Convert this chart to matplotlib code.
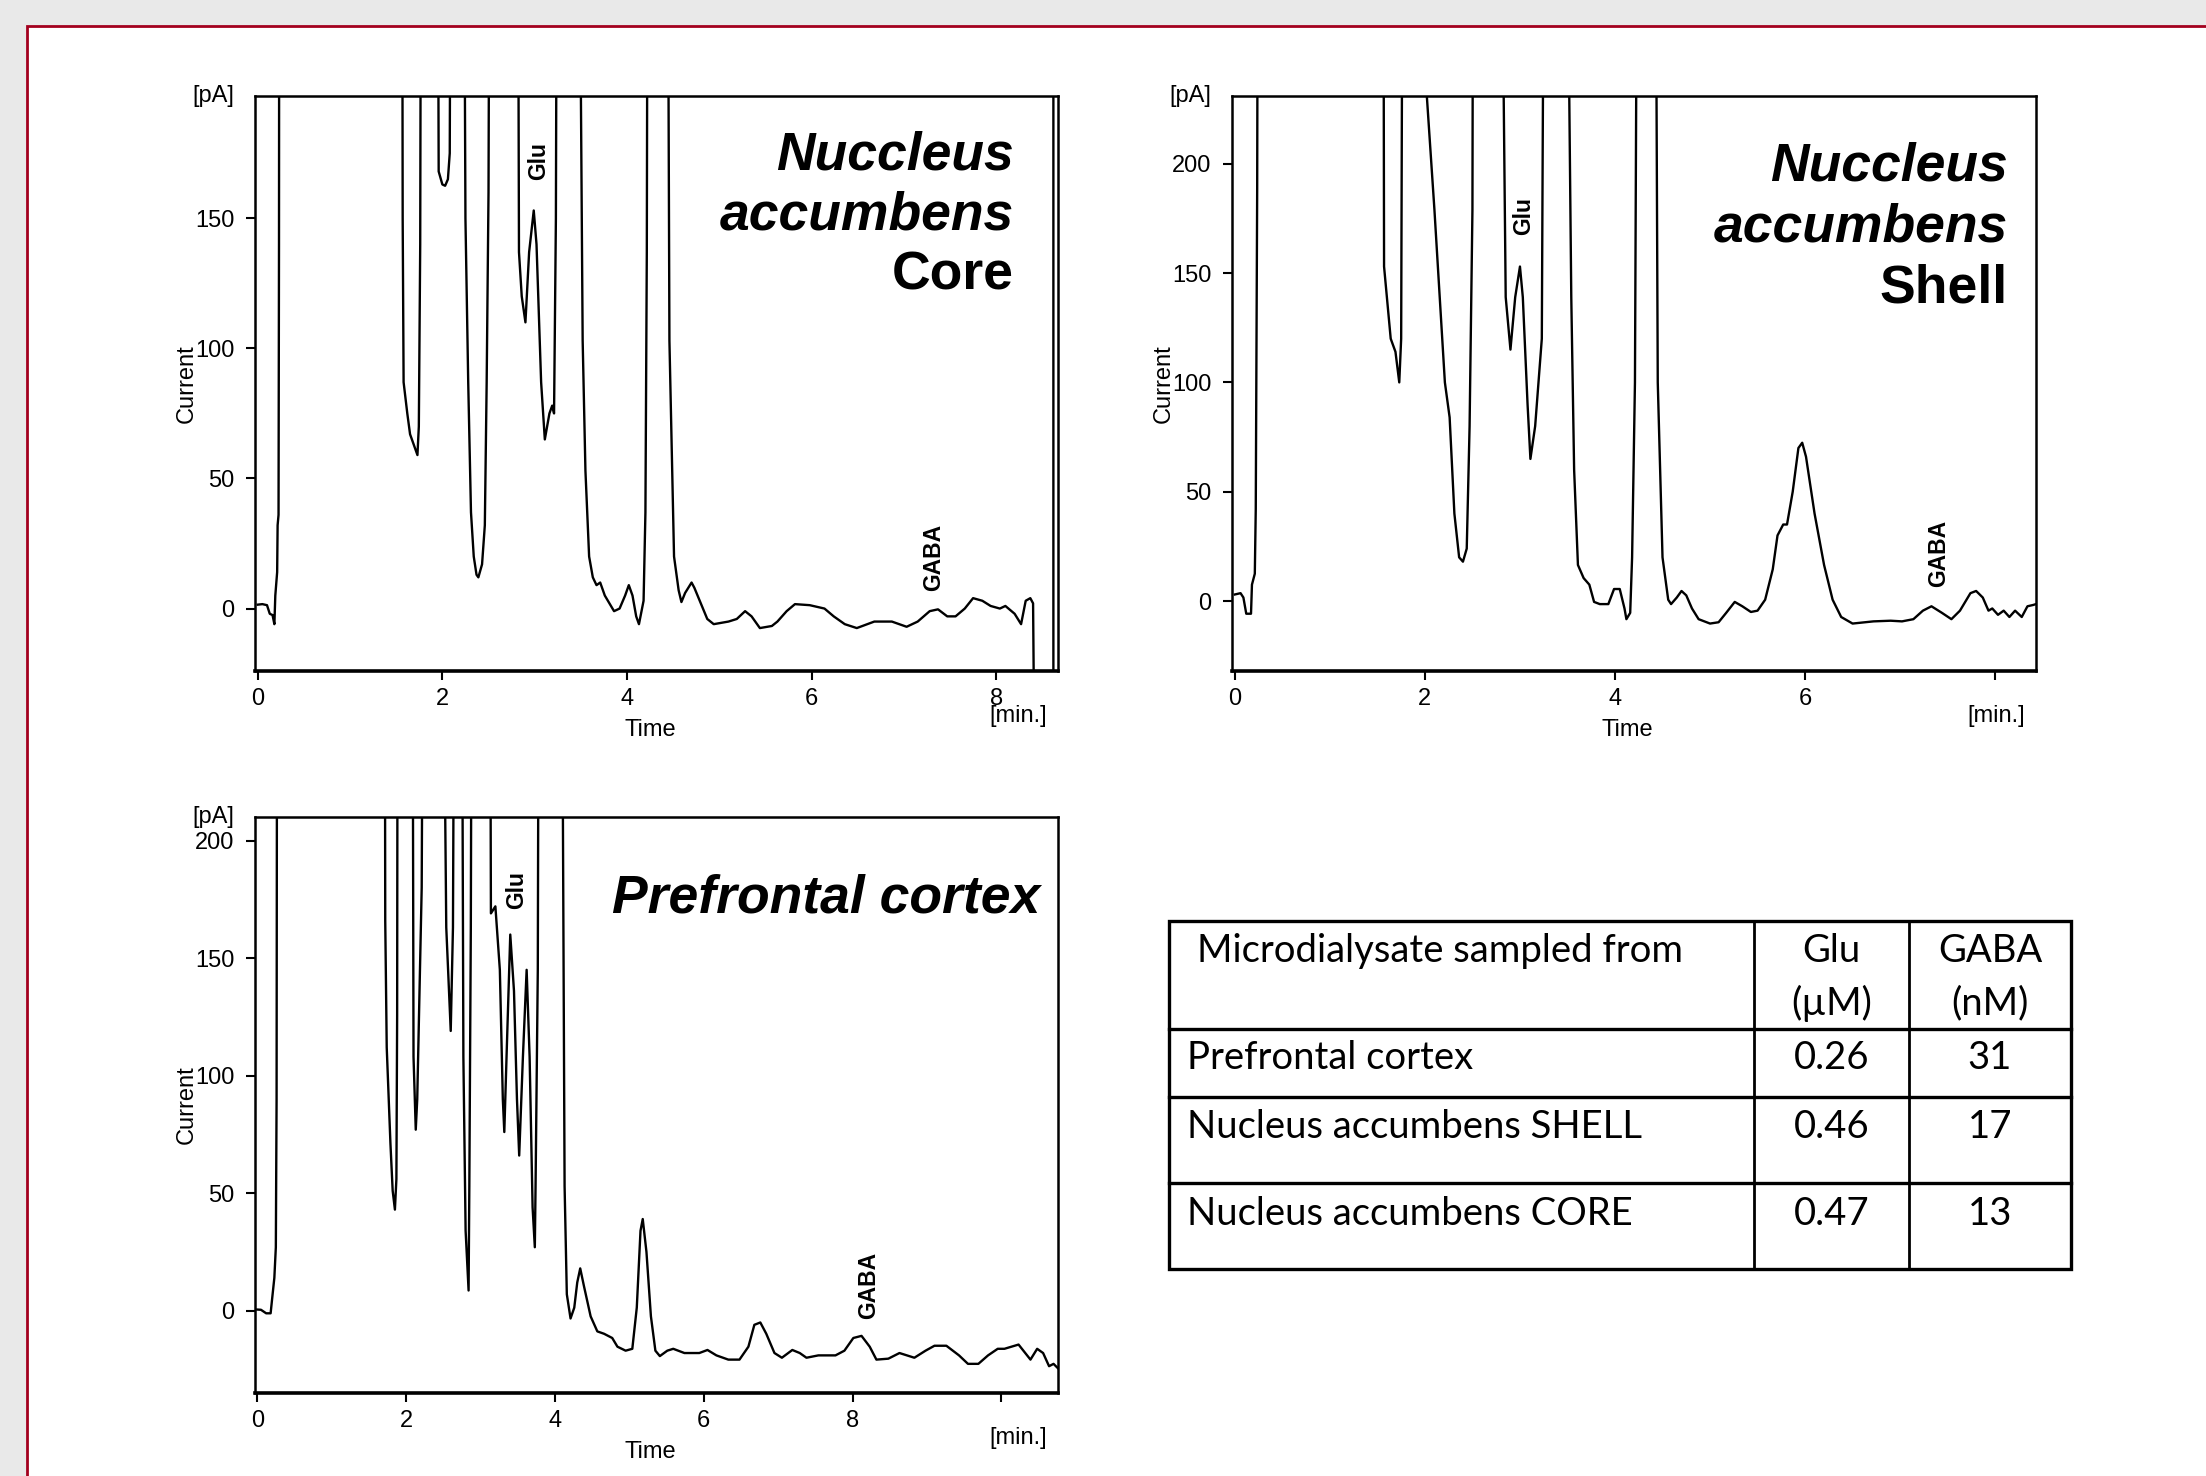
"""Microdialysate chromatograms (Glu / GABA) with summary table."""
import matplotlib
matplotlib.use("Agg")
import matplotlib.pyplot as plt
from matplotlib.patches import Rectangle

# ---- chromatogram traces: time [min], current [pA]; 400 = off-scale peak ----
core_time = [0.00, 0.05, 0.10, 0.13, 0.16, 0.18, 0.19, 0.21, 0.215, 0.225, 0.23, 0.235,
             1.56, 1.57, 1.58, 1.62, 1.65, 1.69, 1.73, 1.745, 1.76, 1.775,
             1.94, 1.96, 2.00, 2.03, 2.06, 2.08, 2.10,
             2.22, 2.25, 2.28, 2.31, 2.34, 2.37, 2.39, 2.43, 2.46, 2.48, 2.50, 2.52,
             2.81, 2.83, 2.86, 2.90, 2.94, 2.99, 3.02, 3.07, 3.11, 3.16, 3.19, 3.21, 3.23, 3.25,
             3.46, 3.52, 3.55, 3.59, 3.63, 3.67, 3.71, 3.76, 3.81, 3.86, 3.92, 3.98, 4.02, 4.06,
             4.10, 4.13, 4.18, 4.20, 4.215, 4.23,
             4.43, 4.46, 4.51, 4.56, 4.59, 4.63, 4.70, 4.73, 4.80, 4.87, 4.94, 5.10, 5.19, 5.28,
             5.35, 5.44, 5.57, 5.63, 5.73, 5.82, 5.98, 6.14, 6.24, 6.36, 6.49, 6.68, 6.87, 7.03,
             7.15, 7.28, 7.37, 7.47, 7.56, 7.66, 7.75, 7.85, 7.94, 8.04, 8.10, 8.20, 8.27, 8.32,
             8.37, 8.40, 8.41, 8.62, 8.62]
core_current = [1.5, 1.7, 1.3, -2.0, -2.5, -6, 5, 14, 32, 36, 140, 400,
                400, 150, 87, 75, 67, 63, 59, 70, 140, 400,
                400, 168, 163, 162.5, 165, 175, 400,
                400, 150, 87, 37, 20, 13, 12, 17, 32, 87, 160, 400,
                400, 137, 120, 110, 137, 153, 140, 87, 65, 75, 78, 75, 150, 400,
                400, 103, 53, 20, 12, 9, 10, 5, 2, -1, 0, 5, 9, 5,
                -3, -6, 3, 37, 137, 400,
                400, 103, 20, 7, 2.5, 6, 10, 8, 2, -4, -6, -5, -4, -1,
                -3, -7.5, -6.7, -5, -1, 1.7, 1.3, 0, -3, -6, -7.5, -5, -5, -7,
                -5, -1, -0.3, -3, -3, 0, 4, 3, 1, 0, 1, -2, -6, 3,
                4, 2, -40, -40, 400]

shell_time = [0.00, 0.06, 0.09, 0.12, 0.17, 0.18, 0.21, 0.22, 0.235, 0.245,
              1.56, 1.57, 1.64, 1.69, 1.73, 1.75, 1.77,
              2.01, 2.02, 2.10, 2.21, 2.26, 2.31, 2.36, 2.40, 2.44, 2.47, 2.50, 2.51,
              2.79, 2.85, 2.90, 2.95, 3.00, 3.03, 3.08, 3.11, 3.16, 3.23, 3.26,
              3.48, 3.54, 3.57, 3.61, 3.67, 3.73, 3.78, 3.84, 3.93, 3.99, 4.05, 4.10, 4.12,
              4.16, 4.18, 4.21, 4.24,
              4.42, 4.45, 4.50, 4.56, 4.59, 4.65, 4.70, 4.75, 4.81, 4.88, 5.00, 5.09, 5.17,
              5.26, 5.34, 5.43, 5.50, 5.58, 5.66, 5.71, 5.77, 5.81, 5.87, 5.93, 5.97, 6.01,
              6.10, 6.20, 6.29, 6.38, 6.50, 6.72, 6.90, 7.02, 7.14, 7.24, 7.33, 7.44, 7.54,
              7.63, 7.74, 7.80, 7.87, 7.93, 7.97, 8.03, 8.09, 8.15, 8.21, 8.28, 8.34, 8.40, 8.43]
shell_current = [3, 3.6, 1.6, -5.8, -5.8, 7.5, 12.5, 42, 189, 400,
                 400, 153, 120, 114, 100, 120, 400,
                 400, 231, 179, 100, 84, 40, 20, 18, 24, 80, 179, 400,
                 400, 139, 115, 139, 153, 139, 90, 65, 80, 120, 400,
                 400, 139, 60, 16.5, 10.5, 7.5, -0.4, -1.4, -1.4, 5.5, 5.5, -3.4, -8.3,
                 -5.4, 20, 100, 400,
                 400, 100, 20, 0.6, -1.4, 1.6, 4.6, 2.6, -3.4, -8.3, -10.3, -9.7, -5.4,
                 -0.4, -2.4, -5, -4.4, 0.6, 14.5, 30, 35, 35, 50, 70, 72.4, 66,
                 40, 16.5, 0.6, -7.3, -10.3, -9.3, -9, -9.3, -8.3, -4.4, -2.4, -5.4, -8.3,
                 -4.4, 3.6, 4.6, 1.6, -4.4, -3.4, -6.3, -4.4, -7.3, -4.4, -7.3, -2.4, -1.8, -1.4]

pfc_time = [0.00, 0.05, 0.12, 0.18, 0.20, 0.23, 0.25, 0.26, 0.27,
            1.71, 1.72, 1.74, 1.79, 1.82, 1.85, 1.87, 1.88, 1.89,
            2.08, 2.10, 2.13, 2.15, 2.21, 2.24,
            2.47, 2.54, 2.60, 2.63, 2.66,
            2.74, 2.77, 2.80, 2.84, 2.85, 2.87, 2.89,
            3.12, 3.14, 3.20, 3.26, 3.30, 3.32, 3.35, 3.40, 3.45, 3.49, 3.52, 3.57, 3.62,
            3.66, 3.70, 3.73, 3.74, 3.77, 3.79,
            4.08, 4.13, 4.16, 4.21, 4.26, 4.30, 4.34, 4.39, 4.48, 4.57, 4.66, 4.77, 4.84,
            4.95, 5.04, 5.10, 5.15, 5.18, 5.23, 5.29, 5.35, 5.41, 5.51, 5.59, 5.74, 5.94,
            6.05, 6.17, 6.33, 6.48, 6.60, 6.68, 6.76, 6.84, 6.95, 7.05, 7.19, 7.29, 7.38,
            7.54, 7.77, 7.89, 8.01, 8.12, 8.23, 8.32, 8.48, 8.63, 8.83, 8.98, 9.10, 9.26,
            9.43, 9.55, 9.69, 9.82, 9.95, 10.04, 10.23, 10.39, 10.48, 10.56, 10.64, 10.70, 10.76]
pfc_current = [0.5, 0.4, -1.1, -1.1, 5, 14, 27, 90, 400,
               400, 166, 112, 71, 51, 43, 56, 126, 400,
               400, 108, 77, 90, 180, 400,
               400, 163, 119, 163, 400,
               400, 108, 34, 8.6, 53, 163, 400,
               400, 169, 172, 145, 90, 76, 108, 160, 136, 90, 66, 108, 145,
               108, 44, 27, 53, 145, 400,
               400, 53, 7, -3.3, 1.3, 12, 18, 10.5, -2.4, -8.8, -9.8, -11.6, -15.3,
               -17, -16.2, 1.3, 34, 39, 25, -2.4, -17, -19.3, -17, -16.2, -18, -18,
               -16.7, -19, -20.8, -20.8, -15.3, -6, -5, -9.8, -18, -20, -16.7, -18, -20,
               -19, -19, -17, -11.6, -10.7, -15.3, -20.8, -20.4, -18, -20, -17, -14.9, -14.9,
               -19, -22.6, -22.6, -19, -16.2, -16.2, -14.4, -20.8, -16.2, -18, -23.6, -22.6, -24.5]

core_xticks = [0, 2, 4, 6, 8]
core_xlabels = ["0", "2", "4", "6", "8"]
core_yticks = [0, 50, 100, 150]
shell_xticks = [0, 2, 4, 6, 8]
shell_xlabels = ["0", "2", "4", "6", ""]
shell_yticks = [0, 50, 100, 150, 200]
pfc_xticks = [0, 2, 4, 6, 8, 10]
pfc_xlabels = ["0", "2", "4", "6", "8", ""]
pfc_yticks = [0, 50, 100, 150, 200]

# ---- table ----
table_header = ["Microdialysate sampled from", "Glu\n(\u00b5M)", "GABA\n(nM)"]
regions = ["Prefrontal cortex", "Nucleus accumbens SHELL", "Nucleus accumbens CORE"]
glu_um = ["0.26", "0.46", "0.47"]
gaba_nm = ["31", "17", "13"]

W, H = 2206, 1476
FONT = "Liberation Sans"
RED = "#a3001e"


def chrom(fig, rect, t, y, xlim, ylim, xticks, xlabels, yticks,
          title_lines, title_pos, glu_pos, gaba_pos):
    ax = fig.add_axes(rect, zorder=2)
    ax.set_facecolor("white")
    ax.plot(t, y, color="black", lw=1.7, solid_joinstyle="round")
    ax.set_xlim(*xlim)
    ax.set_ylim(*ylim)
    ax.set_xticks(xticks)
    ax.set_xticklabels(xlabels)
    ax.set_yticks(yticks)
    ax.tick_params(direction="out", length=6.5, width=1.5, labelsize=17)
    ax.tick_params(axis="y", pad=8.5)
    ax.tick_params(axis="x", pad=6)
    for lab in ax.get_xticklabels() + ax.get_yticklabels():
        lab.set_fontfamily(FONT)
    for s in ["left", "top", "right"]:
        ax.spines[s].set_linewidth(1.8)
    ax.spines["bottom"].set_linewidth(2.6)
    ax.set_ylabel("Current", fontsize=17, family=FONT)
    ax.yaxis.set_label_coords(-0.071, 0.5)
    ax.text(0.492, -0.103, "Time", transform=ax.transAxes, ha="center", va="center",
            fontsize=17, family=FONT)
    ax.text(0.95, -0.078, "[min.]", transform=ax.transAxes, ha="center", va="center",
            fontsize=17, family=FONT)
    ax.text(-0.052, 1.0, "[pA]", transform=ax.transAxes, ha="center", va="center",
            fontsize=17, family=FONT)
    tx, ty, dy = title_pos
    for i, (txt, style) in enumerate(title_lines):
        ax.text(tx, ty - i * dy, txt, transform=ax.transAxes, ha="right", va="center",
                fontsize=38.5, fontweight="bold", fontstyle=style, family=FONT)
    ax.text(glu_pos[0], glu_pos[1], "Glu", rotation=90, ha="center", va="center",
            fontsize=16.5, fontweight="bold", family=FONT)
    ax.text(gaba_pos[0], gaba_pos[1], "GABA", rotation=90, ha="center", va="center",
            fontsize=16.5, fontweight="bold", family=FONT)
    return ax


def main():
    fig = plt.figure(figsize=(W / 100, H / 100), dpi=100, facecolor="#e9e9e9")

    # page: white panel with red frame, plus the table drawn in pixel coordinates
    bg = fig.add_axes([0, 0, 1, 1], zorder=0)
    bg.set_xlim(0, W)
    bg.set_ylim(H, 0)
    bg.axis("off")
    bg.add_patch(Rectangle((27, 26), W, H, facecolor="white", edgecolor=RED, lw=2.0))

    tl, tr, tt, tb = 1169, 2071, 921, 1269
    col_x = [1754, 1909]
    row_y = [1029, 1097, 1183]
    bg.add_patch(Rectangle((tl, tt), tr - tl, tb - tt, fill=False, edgecolor="black", lw=2.4))
    for x in col_x:
        bg.plot([x, x], [tt, tb], color="black", lw=2.0)
    for yy in row_y:
        bg.plot([tl, tr], [yy, yy], color="black", lw=2.4)
    tfont = dict(family="Lato", fontsize=27.5, color="black", va="center")
    bg.text(1197, 951, table_header[0], ha="left", **tfont)
    c1, c2 = (col_x[0] + col_x[1]) / 2, (col_x[1] + tr) / 2
    for cx, hdr in zip([c1, c2], table_header[1:]):
        top, bot = hdr.split("\n")
        bg.text(cx, 951, top, ha="center", **tfont)
        bg.text(cx, 1003, bot, ha="center", **tfont)
    row_text_y = [1058, 1127, 1214]
    for ry, name, g, b in zip(row_text_y, regions, glu_um, gaba_nm):
        bg.text(1187, ry, name, ha="left", **tfont)
        bg.text(c1, ry, g, ha="center", **tfont)
        bg.text(c2, ry, b, ha="center", **tfont)

    chrom(fig, [255 / W, 1 - 671 / H, 803 / W, 575 / H], core_time, core_current,
          (-0.03, 8.67), (-24, 197), core_xticks, core_xlabels, core_yticks,
          [("Nuccleus", "italic"), ("accumbens", "italic"), ("Core", "normal")],
          (0.945, 0.897, 0.105), (3.04, 172), (7.32, 19.6))
    chrom(fig, [1232 / W, 1 - 671 / H, 804 / W, 575 / H], shell_time, shell_current,
          (-0.03, 8.43), (-32, 231), shell_xticks, shell_xlabels, shell_yticks,
          [("Nuccleus", "italic"), ("accumbens", "italic"), ("Shell", "normal")],
          (0.965, 0.877, 0.106), (3.04, 176), (7.41, 21.6))
    chrom(fig, [255 / W, 1 - 1393 / H, 803 / W, 576 / H], pfc_time, pfc_current,
          (-0.03, 10.76), (-35, 210), pfc_xticks, pfc_xlabels, pfc_yticks,
          [("Prefrontal cortex", "italic")],
          (0.978, 0.859, 0.1), (3.48, 179), (8.21, 10.7))

    fig.savefig("out.png", dpi=100, facecolor=fig.get_facecolor())
    plt.close(fig)


if __name__ == "__main__":
    main()
